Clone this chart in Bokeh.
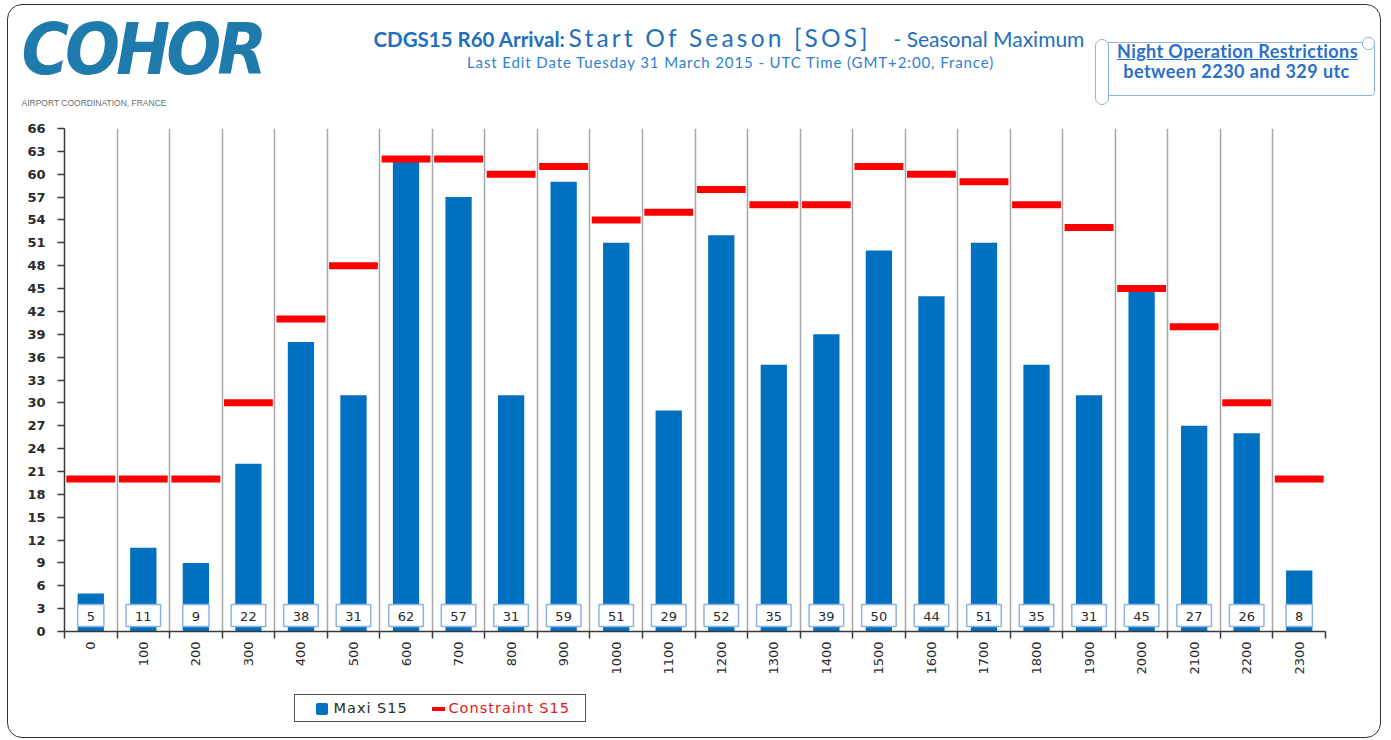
import math
from bokeh.plotting import figure
from bokeh.models import Range1d, FixedTicker, Div
from bokeh.layouts import column
from bokeh.embed import file_html
from bokeh.resources import INLINE
from bokeh.core.properties import value

# ---------------- data ----------------
hours = ["0", "100", "200", "300", "400", "500", "600", "700", "800", "900", "1000", "1100",
         "1200", "1300", "1400", "1500", "1600", "1700", "1800", "1900", "2000", "2100", "2200", "2300"]
maxi_s15 = [5, 11, 9, 22, 38, 31, 62, 57, 31, 59, 51, 29, 52, 35, 39, 50, 44, 51, 35, 31, 45, 27, 26, 8]
constraint_s15 = [20, 20, 20, 30, 41, 48, 62, 62, 60, 61, 54, 55, 58, 56, 56, 61, 60, 59, 56, 53, 45, 40, 30, 20]
y_ticks = list(range(0, 67, 3))

logo = "COHOR"
logo_sub = "AIRPORT COORDINATION, FRANCE"
title_bold = "CDGS15 R60 Arrival:"
title_main = "Start Of Season [SOS]"
title_tail = "- Seasonal Maximum"
subtitle = "Last Edit Date Tuesday 31 March 2015 - UTC Time (GMT+2:00, France)"
note_1 = "Night Operation Restrictions"
note_2 = "between 2230 and 329 utc"
legend_1 = "Maxi S15"
legend_2 = "Constraint S15"

# ---------------- style ----------------
W = 1372
HDR_H, CH_H, FTR_H = 115, 568, 49
BLUE = "#0070c0"
RED = "#ff0000"
TXT = "#2b2b2b"
TITLE_BLUE = "#1f6fc0"
NOTE_BLUE = "#2a6fc9"
BOX_BLUE = "#8db3e2"


def pos(left, top, extra=""):
    return f"position:absolute;left:{left}px;top:{top}px;white-space:nowrap;{extra}"


def lato_top(baseline, size, lh):
    # top of a one-line box (Lato, line-height lh) whose baseline sits at `baseline`
    return round(baseline - lh / 2 - 0.387 * size, 1)


TB = 42.0    # title baseline (header coords)
SB = 62.5    # subtitle baseline (header coords)

# ---------------- header (HTML) ----------------
header_html = f"""
<div style="position:relative;width:{W}px;height:{HDR_H}px;overflow:hidden;">
  <div style="{pos(13.5, 7.6, 'width:238px;text-align:center;line-height:72px;font-size:72px;'
                   'font-family:DejaVu Sans Condensed, DejaVu Sans;font-stretch:condensed;'
                   'font-weight:bold;font-style:italic;color:#1f7bab;letter-spacing:-4px;')}">{logo}</div>
  <div style="{pos(13.5, 94, 'font-family:Liberation Sans;font-size:8.5px;line-height:9px;color:#6d6d6d;')}">{logo_sub}</div>
  <div style="{pos(365.5, lato_top(TB, 20.5, 16), 'font-family:Lato;font-weight:bold;font-size:20.5px;'
                   'line-height:16px;color:' + TITLE_BLUE + ';')}">{title_bold}</div>
  <div style="{pos(560.5, lato_top(TB, 24.5, 20), 'font-family:Lato;font-size:24.5px;letter-spacing:3.2px;'
                   'line-height:20px;color:' + TITLE_BLUE + ';')}">{title_main}</div>
  <div style="{pos(885.5, lato_top(TB, 21, 16), 'font-family:Lato;font-size:21px;'
                   'line-height:16px;color:' + TITLE_BLUE + ';')}">{title_tail}</div>
  <div style="{pos(322.5, lato_top(SB, 15, 14), 'width:800px;text-align:center;font-family:Lato;'
                   'font-size:15px;letter-spacing:0.9px;line-height:14px;color:#2f7fd0;')}">{subtitle}</div>
  <div style="{pos(1094.5, 36.5, 'box-sizing:border-box;width:272px;height:54px;border:1.5px solid '
                   + BOX_BLUE + ';border-radius:4px;background:white;')}"></div>
  <div style="{pos(1086.5, 33.5, 'box-sizing:border-box;width:14px;height:66px;border:1.5px solid '
                   + BOX_BLUE + ';border-radius:7px;background:white;')}"></div>
  <div style="{pos(1353.5, 31.5, 'box-sizing:border-box;width:13px;height:13px;border:1.5px solid '
                   + BOX_BLUE + ';border-radius:6px;background:white;')}"></div>
  <div style="{pos(1029.5, 36, 'width:400px;text-align:center;font-family:Lato;font-weight:bold;'
                   'font-size:18px;letter-spacing:0.4px;line-height:20px;text-decoration:underline;color:'
                   + NOTE_BLUE + ';')}">{note_1}</div>
  <div style="{pos(1028.5, 55.5, 'width:400px;text-align:center;font-family:Lato;font-weight:bold;'
                   'font-size:18px;letter-spacing:0.45px;line-height:20px;color:' + NOTE_BLUE + ';')}">{note_2}</div>
</div>
"""
header = Div(text=header_html, width=W, height=HDR_H, styles={"margin": "0", "padding": "0"})

# ---------------- chart ----------------
n = len(hours)
centers = [i + 0.5 for i in range(n)]

p = figure(width=W, height=CH_H, x_range=Range1d(0, n), y_range=Range1d(0, 66),
           output_backend="svg", toolbar_location=None,
           min_border_left=56, min_border_right=55, min_border_top=8, min_border_bottom=57)
p.outline_line_color = None
p.ygrid.visible = False
p.xgrid.ticker = FixedTicker(ticks=list(range(1, n)))
p.xgrid.grid_line_color = "#a6a6a6"
p.xgrid.grid_line_width = 1.5

p.vbar(x=centers, top=maxi_s15, bottom=0, width=0.5, fill_color=BLUE, line_color=None)
p.rect(x=centers, y=constraint_s15, width=0.93, height=7, height_units="screen",
       fill_color=RED, line_color=None)
p.text(x=centers, y=[0] * n, text=[str(v) for v in maxi_s15], y_offset=-16,
       text_font=value("DejaVu Sans"), text_font_size="13px", text_color=TXT,
       text_align="center", text_baseline="middle",
       background_fill_color="white", border_line_color=BOX_BLUE, border_line_width=1.5,
       padding={"left": 9, "right": 9, "top": 7, "bottom": 6})

xa = p.xaxis[0]
xa.ticker = FixedTicker(ticks=centers, minor_ticks=list(range(0, n + 1)))
xa.major_label_overrides = {c: h for c, h in zip(centers, hours)}
xa.major_tick_out = 0
xa.major_tick_in = 0
xa.minor_tick_out = 7
xa.minor_tick_in = 0
xa.minor_tick_line_color = "#3a3a3a"
xa.minor_tick_line_width = 1.5
xa.major_label_orientation = math.pi / 2
xa.major_label_standoff = 3
xa.major_label_text_font_size = "13px"

ya = p.yaxis[0]
ya.ticker = FixedTicker(ticks=y_ticks)
ya.major_tick_out = 7
ya.major_tick_in = 0
ya.minor_tick_line_color = None
ya.major_label_standoff = 12
ya.major_tick_line_color = "#3a3a3a"
ya.major_tick_line_width = 1.5
ya.major_label_text_font_size = "13px"
ya.major_label_text_font_style = "bold"

for ax in (xa, ya):
    ax.axis_line_color = "#3a3a3a"
    ax.axis_line_width = 1.5
    ax.major_label_text_font = "DejaVu Sans"
    ax.major_label_text_color = TXT

# ---------------- footer / legend (HTML) ----------------
footer_html = f"""
<div style="position:relative;width:{W}px;height:{FTR_H}px;overflow:hidden;">
  <div style="{pos(285.5, 5.5, 'box-sizing:border-box;width:292px;height:28px;border:1.5px solid #555555;background:white;')}"></div>
  <div style="{pos(307.5, 14.5, 'width:12px;height:12px;border-radius:2px;background:' + BLUE + ';')}"></div>
  <div style="{pos(325.5, 12, 'font-family:DejaVu Sans;font-size:14.5px;letter-spacing:1px;line-height:17px;color:'
                   + TXT + ';')}">{legend_1}</div>
  <div style="{pos(423.5, 18.5, 'width:13px;height:4px;background:' + RED + ';')}"></div>
  <div style="{pos(440.5, 12, 'font-family:DejaVu Sans;font-size:14.5px;letter-spacing:1px;line-height:17px;'
                   'color:#e8141c;')}">{legend_2}</div>
</div>
"""
footer = Div(text=footer_html, width=W, height=FTR_H, styles={"margin": "0", "padding": "0"})

layout = column(header, p, footer, spacing=0,
                styles={"margin-left": "7px", "margin-top": "4px", "border": "1.5px solid #333333",
                        "border-radius": "15px", "background-color": "white", "overflow": "hidden"})

open("out.html", "w").write(file_html(layout, INLINE))
